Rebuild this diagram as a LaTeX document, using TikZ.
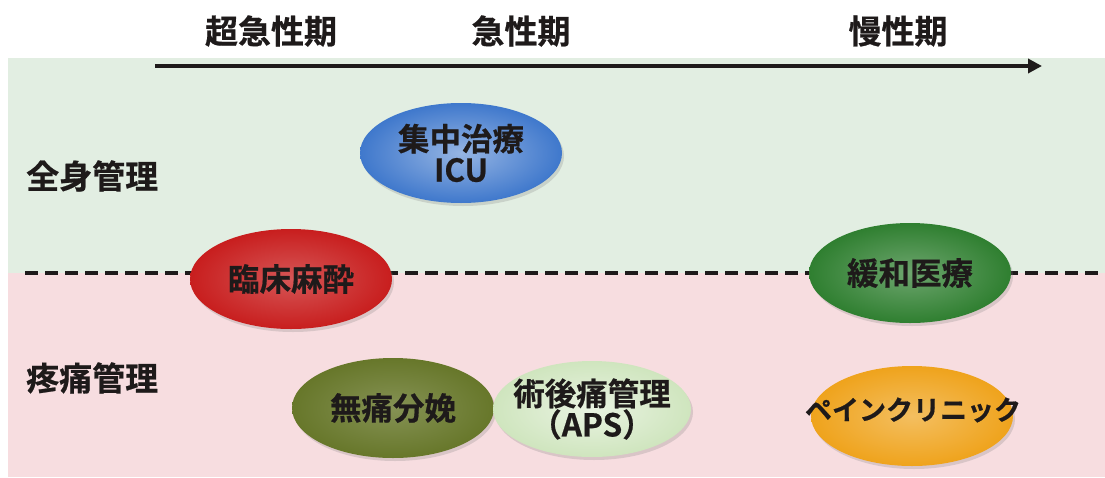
\documentclass[tikz,border=0pt]{standalone}
\usepackage{fontspec}
\newfontfamily\jp{Noto Sans CJK JP}[BoldFont={Noto Sans CJK JP Bold}, BoldFeatures={FakeBold=0.6}]
\usetikzlibrary{shapes.geometric,shadows,arrows.meta}
\definecolor{bgG}{HTML}{E2EEE2}
\definecolor{bgP}{HTML}{F7DDE0}
\definecolor{cBlue}{HTML}{3F78CC}
\definecolor{cRed}{HTML}{C81E1E}
\definecolor{cGreen}{HTML}{2F7F30}
\definecolor{cOlive}{HTML}{67772A}
\definecolor{cLight}{HTML}{CFE5BE}
\definecolor{cYellow}{HTML}{EFA31C}
\definecolor{ink}{HTML}{1E1A1A}
\begin{document}
\begin{tikzpicture}[x=1pt,y=-1pt,
  blob/.style={ellipse, minimum width=202pt, minimum height=100pt, inner sep=0pt,
     drop shadow={shadow xshift=2pt, shadow yshift=-3pt, opacity=0.25}},
  txt/.style={text=ink, font=\jp\bfseries\fontsize{31.5}{34}\selectfont, align=center, inner sep=0pt},
  head/.style={text=ink, font=\jp\bfseries\fontsize{33}{36}\selectfont, inner sep=0pt},
]
\useasboundingbox (0,0) rectangle (1105,477);
\fill[white] (0,0) rectangle (1105,477);
\fill[bgG] (8,58) rectangle (1105,273);
\fill[bgP] (8,273) rectangle (1105,477);
% headings
\node[head] (h1) at (271,31) {超急性期};
\node[head] (h2) at (521,31) {急性期};
\node[head] (h3) at (898,31) {慢性期};
% time arrow
\coordinate (a0) at (155,66);
\coordinate (a1) at (1042,66);
\draw[line width=4.5pt, -{Triangle[length=14pt,width=14pt]}, ink] (a0) -- (a1);
% dashed divider
\coordinate (d0) at (25,273);
\coordinate (d1) at (1105,273);
\draw[ink, line width=3.4pt, dash pattern=on 13pt off 7pt] (d0) -- (d1);
% row labels
\node[head, anchor=west] (r1) at (26,176) {全身管理};
\node[head, anchor=west] (r2) at (26,378) {疼痛管理};
% ellipses
\node[blob, inner color=cBlue!55!white, outer color=cBlue] (icu) at (461,153) {};
\node[txt] (icuT) at (icu) {集中治療\\[-3pt]ICU};
\node[blob, inner color=cRed!75!white, outer color=cRed] (ane) at (291,279) {};
\node[txt] (aneT) at (ane) {臨床麻酔};
\node[blob, inner color=cGreen!70!white, outer color=cGreen] (pal) at (910,273) {};
\node[txt] (palT) at (pal) {緩和医療};
\node[blob, inner color=cOlive!80!white, outer color=cOlive] (lab) at (393,408) {};
\node[txt] (labT) at (lab) {無痛分娩};
\node[blob, minimum width=198pt, minimum height=96pt, inner color=cLight!45!white, outer color=cLight] (aps) at (592,409) {};
\node[txt] (apsT) at (aps) {術後痛管理\\[-3pt]（APS）};
\node[blob, inner color=cYellow!70!white, outer color=cYellow] (pc) at (912,416) {};
\node[txt, font=\jp\bfseries\fontsize{27}{30}\selectfont] (pcT) at (913,410) {ペインクリニック};
\end{tikzpicture}
\end{document}
